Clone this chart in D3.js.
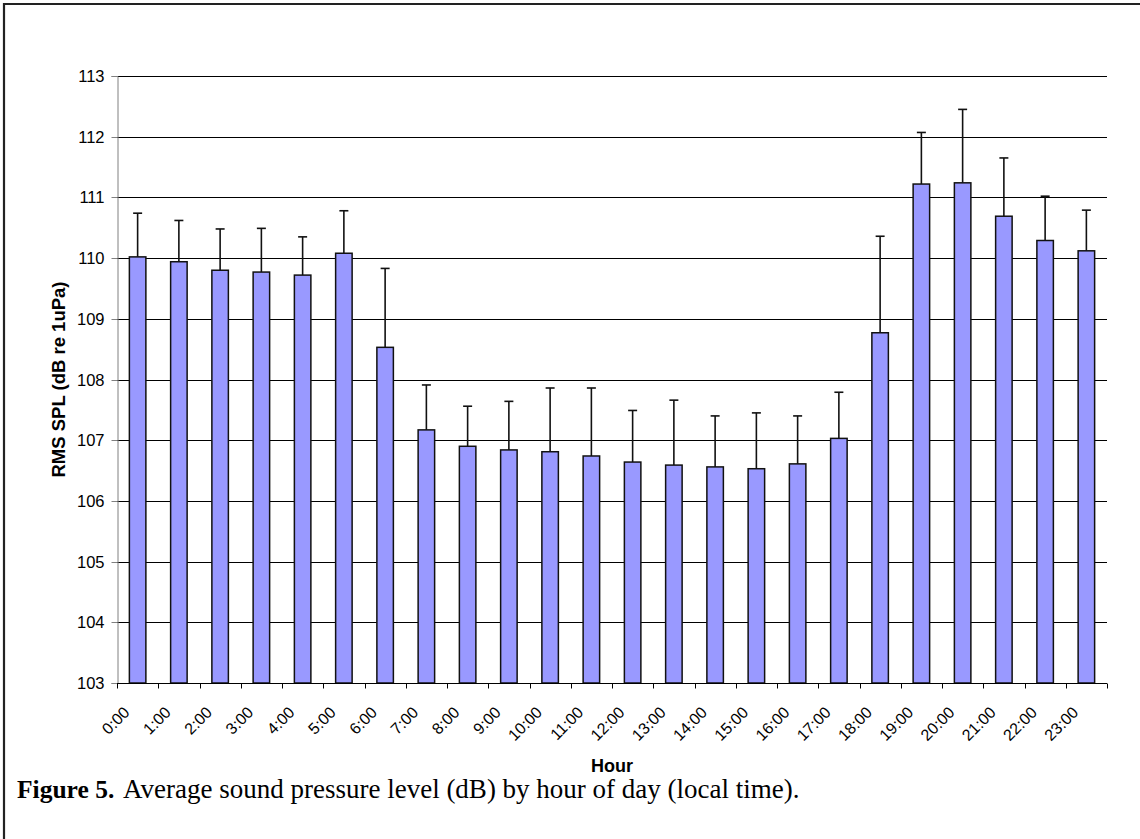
<!DOCTYPE html>
<html>
<head>
<meta charset="utf-8">
<script src="https://cdn.jsdelivr.net/npm/d3@7"></script>
<style>
  html, body { margin: 0; padding: 0; background: #fff; }
  svg { display: block; }
</style>
</head>
<body>
<svg id="chart" width="1140" height="839"></svg>
<script>
const hours = ["0:00","1:00","2:00","3:00","4:00","5:00","6:00","7:00","8:00","9:00","10:00","11:00",
               "12:00","13:00","14:00","15:00","16:00","17:00","18:00","19:00","20:00","21:00","22:00","23:00"];
const meanSPL = [110.02,109.94,109.80,109.77,109.72,110.08,108.53,107.17,106.90,106.84,106.81,106.74,
                 106.64,106.59,106.56,106.53,106.61,107.03,108.77,111.22,111.24,110.69,110.29,110.12];
const errorUp = [0.72,0.68,0.68,0.72,0.63,0.70,1.30,0.74,0.66,0.80,1.05,1.12,
                 0.85,1.07,0.84,0.92,0.79,0.76,1.59,0.85,1.21,0.96,0.73,0.67];
const yTicks = [103,104,105,106,107,108,109,110,111,112,113];

const svg = d3.select("#chart");
const mLeft = 117, mRight = 1107, mTop = 76, mBottom = 683;
const sans = "Liberation Sans, Arial, sans-serif";

// frame (top and left edges visible)
svg.append("path")
  .attr("d", "M4,845 L4,4 L1145,4")
  .attr("fill", "none").attr("stroke", "#222").attr("stroke-width", 2.2);

const x = d3.scaleBand().domain(hours).range([mLeft, mRight]).paddingInner(0.6).paddingOuter(0.3);
const xb = d3.scaleBand().domain(hours).range([mLeft, mRight]);
const y = d3.scaleLinear().domain([103, 113]).range([mBottom, mTop]);

// gridlines
svg.append("g").selectAll("line").data(yTicks.slice(1)).join("line")
  .attr("x1", mLeft).attr("x2", mRight)
  .attr("y1", d => Math.round(y(d)) + 0.5).attr("y2", d => Math.round(y(d)) + 0.5)
  .attr("stroke", "#000").attr("stroke-width", 1);

// y axis
const yAxis = svg.append("g").attr("transform", `translate(${mLeft + 0.5},0)`)
  .call(d3.axisLeft(y).tickValues(yTicks).tickSize(6).tickPadding(7).tickFormat(d3.format("d")));
yAxis.attr("font-size", null).attr("font-family", null);
yAxis.select(".domain").attr("stroke", "#808080");
yAxis.selectAll(".tick line").attr("stroke", "#808080");
yAxis.selectAll(".tick").attr("transform", d => `translate(0,${Math.round(y(d)) + 0.5})`);
yAxis.selectAll("text").style("font-family", sans)
  .style("font-size", "16.5px").attr("fill", "#000");

// error bars
const eb = svg.append("g").attr("stroke", "#111").attr("stroke-width", 1.6);
hours.forEach((h, i) => {
  const cx = x(h) + x.bandwidth() / 2;
  eb.append("line").attr("x1", cx).attr("x2", cx)
    .attr("y1", y(meanSPL[i])).attr("y2", y(meanSPL[i] + errorUp[i]));
  eb.append("line").attr("x1", cx - 4.5).attr("x2", cx + 4.5)
    .attr("y1", y(meanSPL[i] + errorUp[i])).attr("y2", y(meanSPL[i] + errorUp[i]));
});

// bars
svg.append("g").selectAll("rect").data(hours).join("rect")
  .attr("x", d => x(d))
  .attr("width", x.bandwidth())
  .attr("y", (d, i) => y(meanSPL[i]))
  .attr("height", (d, i) => y(103) - y(meanSPL[i]))
  .attr("fill", "#9999FF").attr("stroke", "#111").attr("stroke-width", 1.5);

// x axis
const xAxisG = svg.append("g").attr("transform", `translate(0,${mBottom + 0.5})`);
xAxisG.append("line").attr("x1", mLeft).attr("x2", mRight).attr("stroke", "#000");
const bounds = hours.map(h => xb(h)).concat([mRight]);
xAxisG.selectAll("line.tk").data(bounds).join("line").attr("class", "tk")
  .attr("x1", d => Math.round(d) + 0.5).attr("x2", d => Math.round(d) + 0.5)
  .attr("y1", 0).attr("y2", 5).attr("stroke", "#000");
xAxisG.selectAll("text").data(hours).join("text")
  .attr("transform", d => `translate(${xb(d) + xb.bandwidth() / 2 - 7},${30}) rotate(-45)`)
  .attr("text-anchor", "end")
  .style("font-family", sans)
  .style("font-size", "16px")
  .attr("fill", "#000")
  .text(d => d);

// axis titles
svg.append("text")
  .attr("transform", `translate(65,${(mTop + mBottom) / 2}) rotate(-90)`)
  .attr("text-anchor", "middle")
  .style("font-family", sans)
  .style("font-size", "18.5px").attr("font-weight", "bold")
  .text("RMS SPL (dB re 1uPa)");
svg.append("text")
  .attr("x", (mLeft + mRight) / 2).attr("y", 772)
  .attr("text-anchor", "middle")
  .style("font-family", sans)
  .style("font-size", "18px").attr("font-weight", "bold")
  .text("Hour");

// caption
const serif = "Liberation Serif, Times New Roman, serif";
svg.append("text").attr("x", 17).attr("y", 798)
  .style("font-family", serif).style("font-size", "25.5px").attr("font-weight", "bold")
  .attr("fill", "#000").text("Figure 5.");
svg.append("text").attr("x", 123).attr("y", 798)
  .style("font-family", serif).style("font-size", "27px")
  .attr("fill", "#000").text("Average sound pressure level (dB) by hour of day (local time).");
</script>
</body>
</html>
